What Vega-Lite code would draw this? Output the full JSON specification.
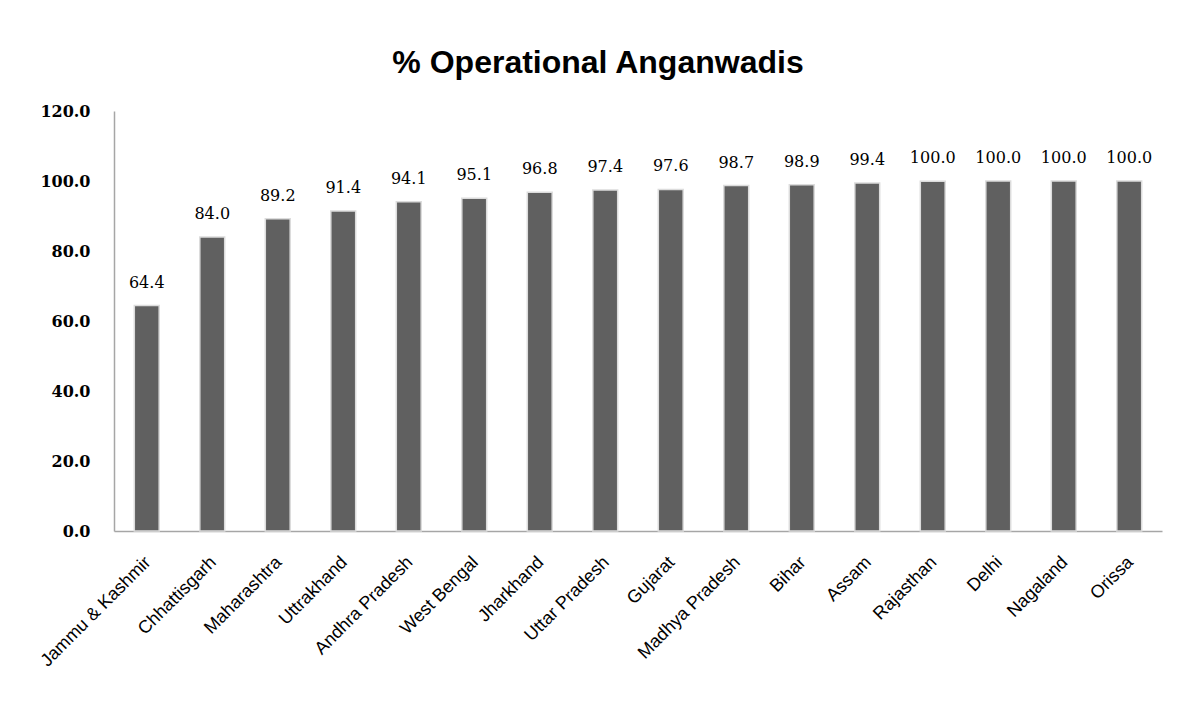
{
  "$schema": "https://vega.github.io/schema/vega-lite/v6.json",
  "width": 1048,
  "height": 420,
  "padding": {"left": 114, "top": 111, "right": 16, "bottom": 172},
  "autosize": {"type": "none"},
  "background": "white",
  "title": {
    "text": "% Operational Anganwadis",
    "font": "Liberation Sans",
    "fontSize": 32,
    "fontWeight": "bold",
    "color": "#000000",
    "anchor": "middle",
    "dx": -40,
    "offset": 23
  },
  "config": {"view": {"stroke": null}},
  "data": {
    "values": [
      {"state": "Jammu & Kashmir", "pct": 64.4},
      {"state": "Chhattisgarh", "pct": 84.0},
      {"state": "Maharashtra", "pct": 89.2},
      {"state": "Uttrakhand", "pct": 91.4},
      {"state": "Andhra Pradesh", "pct": 94.1},
      {"state": "West Bengal", "pct": 95.1},
      {"state": "Jharkhand", "pct": 96.8},
      {"state": "Uttar Pradesh", "pct": 97.4},
      {"state": "Gujarat", "pct": 97.6},
      {"state": "Madhya Pradesh", "pct": 98.7},
      {"state": "Bihar", "pct": 98.9},
      {"state": "Assam", "pct": 99.4},
      {"state": "Rajasthan", "pct": 99.96},
      {"state": "Delhi", "pct": 100.0},
      {"state": "Nagaland", "pct": 100.0},
      {"state": "Orissa", "pct": 100.0}
    ]
  },
  "encoding": {
    "x": {
      "field": "state",
      "type": "nominal",
      "sort": null,
      "scale": {"paddingInner": 0.62, "paddingOuter": 0.31},
      "axis": {
        "title": null,
        "labelAngle": -45,
        "labelFont": "Liberation Sans",
        "labelFontSize": 18,
        "labelColor": "#000000",
        "labelPadding": 22,
        "labelOffset": -5,
        "ticks": false,
        "domainColor": "#a6a6a6",
        "domainWidth": 1.5
      }
    },
    "y": {
      "field": "pct",
      "type": "quantitative",
      "scale": {"domain": [0, 120]},
      "axis": {
        "title": null,
        "values": [0, 20, 40, 60, 80, 100, 120],
        "format": ".1f",
        "grid": false,
        "ticks": false,
        "labelFont": "DejaVu Serif",
        "labelFontSize": 16,
        "labelFontWeight": "bold",
        "labelColor": "#000000",
        "labelPadding": 24,
        "domainColor": "#a6a6a6",
        "domainWidth": 1.5
      }
    }
  },
  "layer": [
    {
      "mark": {"type": "bar", "color": "#606060", "stroke": "#dcdcdc", "strokeWidth": 1.5}
    },
    {
      "mark": {"type": "text", "dy": -23, "font": "DejaVu Serif", "fontSize": 16, "color": "#000000"},
      "encoding": {"text": {"field": "pct", "type": "quantitative", "format": ".1f"}}
    }
  ]
}
